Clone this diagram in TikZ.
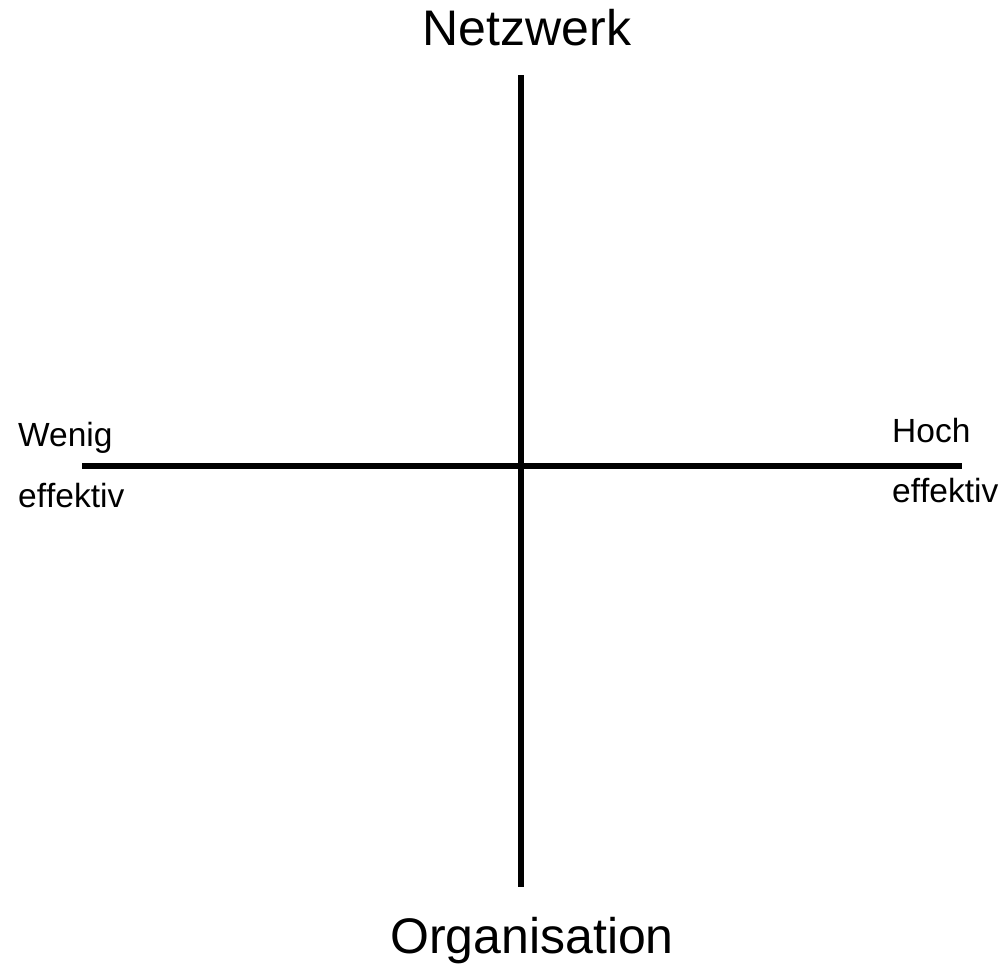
\documentclass[tikz,border=0pt]{standalone}
\usepackage{fontspec}
\setmainfont[Ligatures=NoCommon]{Liberation Sans}
\newcommand{\effektiv}{ef\kern0pt f\kern0pt ektiv}
\begin{document}
\begin{tikzpicture}[x=1pt,y=-1pt]
	\tikzstyle{axis}=[draw, line width=6pt, black]
	\tikzstyle{title}=[inner sep=0pt, anchor=base, font=\fontsize{50}{58}\selectfont]
	\tikzstyle{label}=[inner sep=0pt, anchor=base west, font=\fontsize{33.5}{40}\selectfont]
	\useasboundingbox (0,0) rectangle (1003,964);
	\begin{scope}
		\coordinate (top) at (521,75);
		\coordinate (bottom) at (521,887);
		\coordinate (left) at (82,466);
		\coordinate (right) at (962,466);
		\node [title] (netz) at (527,45) {Netzwerk};
		\node [title] (org) at (532,953) {Organisation};
		\node [label] (wenig) at (18,446) {Wenig};
		\node [label] (weff) at (18,507) {\effektiv};
		\node [label] (hoch) at (892,442) {Hoch};
		\node [label] (heff) at (892,502) {\effektiv};
		\path[axis] (top) -- (bottom);
		\path[axis] (left) -- (right);
	\end{scope}
\end{tikzpicture}
\end{document}
